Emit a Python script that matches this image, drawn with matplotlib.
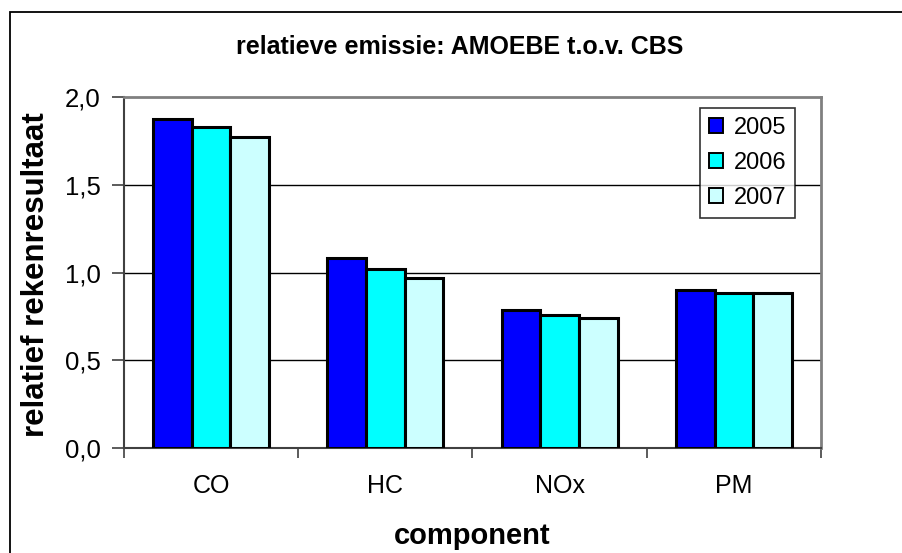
import matplotlib
matplotlib.use("Agg")
import matplotlib.pyplot as plt
import numpy as np
from matplotlib.patches import Rectangle
from matplotlib.ticker import FuncFormatter, FixedLocator

plt.rcParams["font.family"] = ["Liberation Sans", "DejaVu Sans"]

# relative emission per component, AMOEBE versus CBS
components = ["CO", "HC", "NOx", "PM"]
years = ["2005", "2006", "2007"]
rel_2005 = [1.88, 1.085, 0.785, 0.90]
rel_2006 = [1.83, 1.02, 0.755, 0.885]
rel_2007 = [1.775, 0.97, 0.74, 0.885]
series = [rel_2005, rel_2006, rel_2007]
colors = ["#0000FF", "#00FFFF", "#CCFFFF"]

W, H = 903, 553
fig = plt.figure(figsize=(W / 100, H / 100), dpi=100)

# outer chart frame (left and top edges visible)
fig.patches.append(Rectangle((10 / W, -0.1), 1.2, 1.1 - 12 / H,
                             transform=fig.transFigure, fill=False,
                             edgecolor="black", linewidth=1.3))

ax = fig.add_axes([124 / W, 1 - 447.7 / H, (821 - 124) / W, (447.7 - 97.5) / H])

x = np.arange(len(components))
bw = 2 / 9
for j, (vals, col, yr) in enumerate(zip(series, colors, years)):
    ax.bar(x + (j - 1) * bw, vals, width=bw, color=col, edgecolor="black",
           linewidth=2.2, label=yr, zorder=3)

ax.set_xlim(-0.5, len(components) - 0.5)
ax.set_ylim(0, 2.0)
ax.set_yticks([0, 0.5, 1.0, 1.5, 2.0])
ax.yaxis.set_major_formatter(FuncFormatter(lambda v, p: f"{v:.1f}".replace(".", ",")))
ax.set_xticks(x)
ax.set_xticklabels(components)
ax.xaxis.set_minor_locator(FixedLocator(np.arange(-0.5, len(components), 1.0)))

ax.tick_params(axis="x", which="major", length=0, pad=19, labelsize=18)
ax.tick_params(axis="x", which="minor", length=7, width=1.2, color="#404040")
ax.tick_params(axis="y", length=9, width=1.2, color="#404040", pad=8, labelsize=18.5)

for y in [0.5, 1.0, 1.5]:
    ax.axhline(y, color="black", linewidth=1.0, zorder=1)

for s in ["left", "bottom"]:
    ax.spines[s].set_color("#404040")
    ax.spines[s].set_linewidth(1.5)
for s in ["top", "right"]:
    ax.spines[s].set_color("#808080")
    ax.spines[s].set_linewidth(2.0)

leg = ax.legend(loc="upper left", bbox_to_anchor=(700 / W, 1 - 108 / H),
                bbox_transform=fig.transFigure, fontsize=17, frameon=True,
                fancybox=False, shadow=False, borderpad=0.38,
                handlelength=0.6, handleheight=0.6, handletextpad=0.45,
                labelspacing=0.55, borderaxespad=0)
leg.get_frame().set_edgecolor("black")
leg.get_frame().set_linewidth(1.2)
for h in leg.legend_handles:
    h.set_linewidth(1.4)

fig.text(460 / W, 1 - 54 / H, "relatieve emissie: AMOEBE t.o.v. CBS",
         ha="center", va="baseline", fontsize=18, fontweight="bold")
fig.text(36 / W, 1 - 275 / H, "relatief rekenresultaat", rotation=90,
         ha="center", va="center", fontsize=22.5, fontweight="bold")
fig.text(472 / W, 1 - 544 / H, "component", ha="center", va="baseline",
         fontsize=21, fontweight="bold")

fig.savefig("out.png", dpi=100)
